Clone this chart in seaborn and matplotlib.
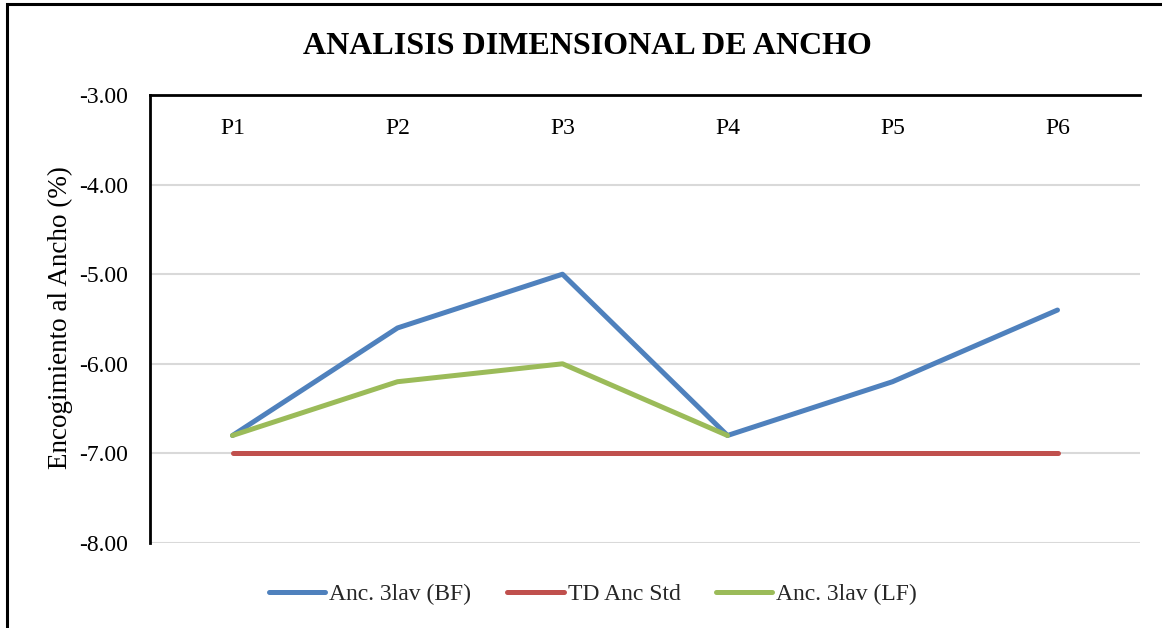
import matplotlib
matplotlib.use("Agg")
import matplotlib.pyplot as plt
import seaborn as sns
import pandas as pd
import numpy as np
from matplotlib.patches import Rectangle
from matplotlib.lines import Line2D

categories = ["P1", "P2", "P3", "P4", "P5", "P6"]
bf_values = [-6.8, -5.6, -5.0, -6.8, -6.2, -5.4]
std_values = [-7.0, -7.0, -7.0, -7.0, -7.0, -7.0]
lf_values = [-6.8, -6.2, -6.0, -6.8, None, None]
series_names = ["Anc. 3lav (BF)", "TD Anc Std", "Anc. 3lav (LF)"]
colors = ["#4F81BD", "#C0504D", "#9BBB59"]
y_ticks = [-3.0, -4.0, -5.0, -6.0, -7.0, -8.0]

rows = []
for name, vals in zip(series_names, [bf_values, std_values, lf_values]):
    for i, (c, v) in enumerate(zip(categories, vals)):
        if v is not None:
            rows.append({"pos": i, "cat": c, "value": v, "serie": name})
df = pd.DataFrame(rows)

sns.set_theme(style="white")
plt.rcParams["font.family"] = ["Liberation Serif", "DejaVu Serif"]

fig = plt.figure(figsize=(11.62, 6.28), dpi=100)
W, H = 1162, 628
ax = fig.add_axes([150 / W, 1 - 543 / H, (1140 - 150) / W, (543 - 95) / H])

sns.lineplot(data=df, x="pos", y="value", hue="serie", palette=dict(zip(series_names, colors)),
             hue_order=series_names, linewidth=3.6, ax=ax, legend=False, sort=False,
             solid_capstyle="round", solid_joinstyle="round")

ax.set_xlim(-0.5, len(categories) - 0.5)
ax.set_ylim(-8, -3)
ax.set_yticks(y_ticks)
ax.set_yticklabels([f"{t:.2f}" for t in y_ticks], fontsize=17, color="black")
ax.yaxis.grid(True, color="#D9D9D9", linewidth=1.5)
ax.xaxis.grid(False)
ax.set_axisbelow(True)

ax.xaxis.tick_top()
ax.set_xticks(range(len(categories)))
ax.set_xticklabels(categories, fontsize=17, color="black")
ax.tick_params(axis="x", length=0, pad=-32)
ax.tick_params(axis="y", length=0, pad=16)
ax.set_xlabel("")
ax.set_ylabel("")

for s in ["right", "bottom"]:
    ax.spines[s].set_visible(False)
for s in ["left", "top"]:
    ax.spines[s].set_visible(True)
    ax.spines[s].set_color("black")
    ax.spines[s].set_linewidth(2)

fig.text(587 / W, 1 - 46 / H, "ANALISIS DIMENSIONAL DE ANCHO", fontsize=23, fontweight="bold",
         ha="center", va="center", color="black")
fig.text(60 / W, 1 - 318 / H, "Encogimiento al Ancho (%)", fontsize=19.5, rotation=90,
         ha="center", va="center", color="black")

handles = [Line2D([0], [0], color=c, linewidth=3.6, solid_capstyle="round") for c in colors]
fig.legend(handles, series_names, loc="center", bbox_to_anchor=(593 / W, 1 - 594 / H), ncol=3,
           frameon=False, fontsize=17, handlelength=2.4, handletextpad=0.17, columnspacing=1.5)

fig.patches.append(Rectangle((7 / W, -0.1), 1.2, 1.1 - 4 / H, transform=fig.transFigure,
                             fill=False, edgecolor="black", linewidth=2.2))

fig.savefig("out.png", dpi=100)
